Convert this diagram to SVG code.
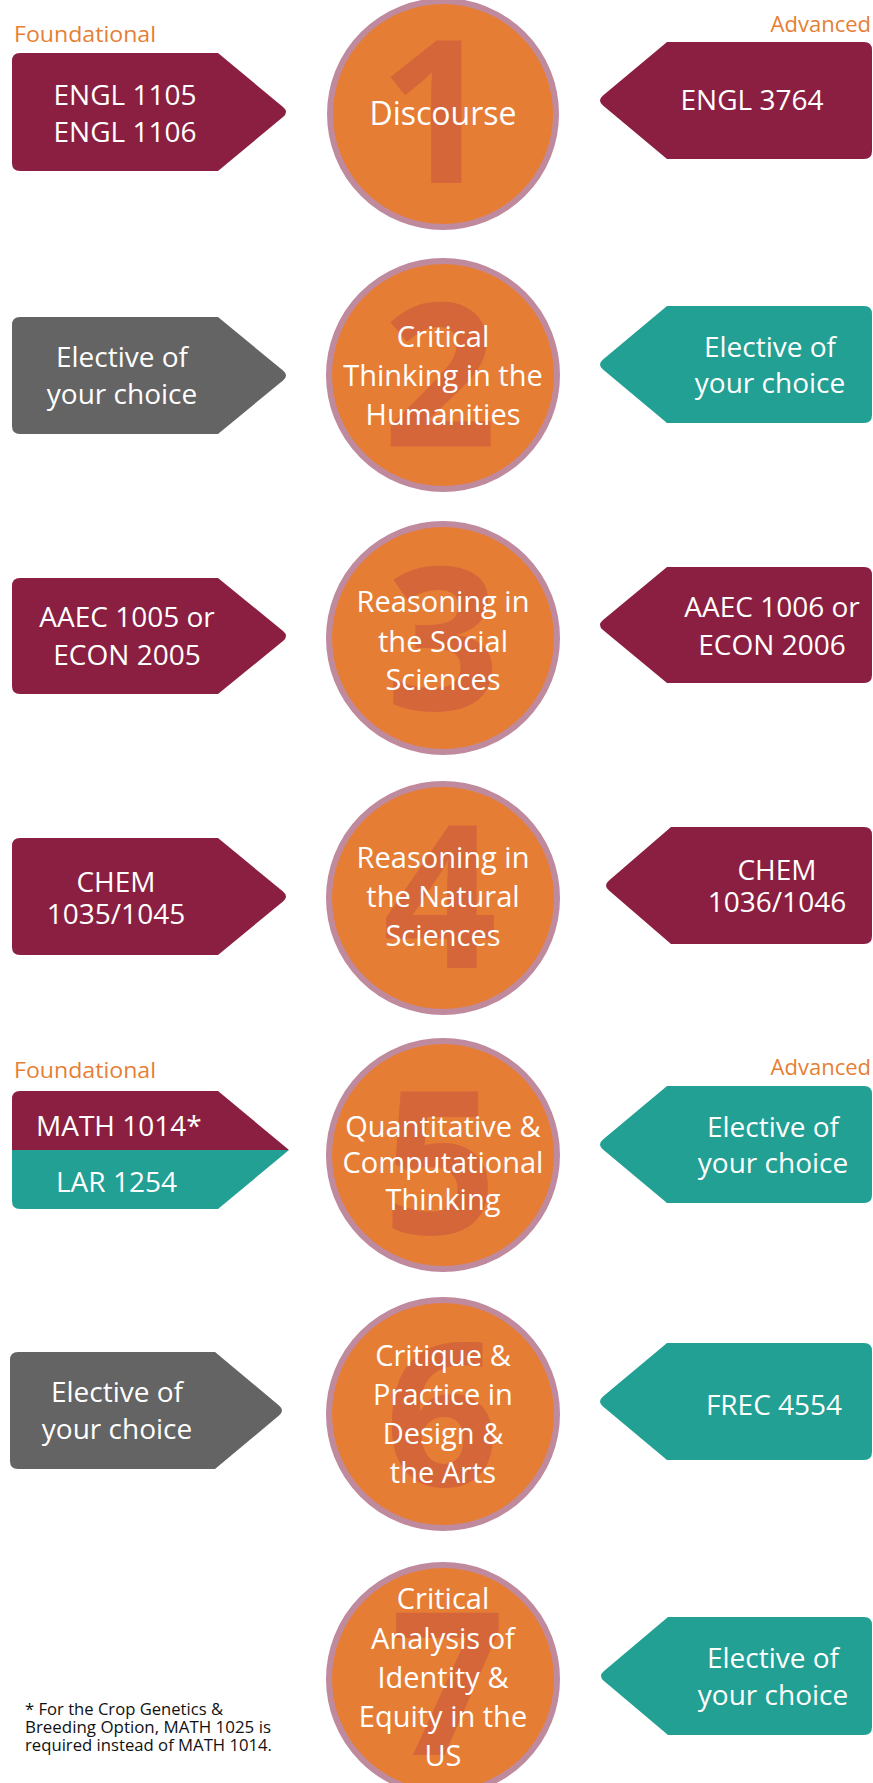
<svg xmlns="http://www.w3.org/2000/svg" width="873" height="1783" viewBox="0 0 873 1783">
<style>
.bg{fill:#ffffff}
.maroon{fill:#8B1F41}
.gray{fill:#646464}
.teal{fill:#22A094}
.circ{fill:#E67D35;stroke:#C08A9E;stroke-width:6}
.num{fill:#D5663A;font-family:"Open Sans","DejaVu Sans",sans-serif;font-weight:700;font-size:200px;text-anchor:middle}
.ct{fill:#ffffff;font-family:"Open Sans","DejaVu Sans",sans-serif;font-size:29px;text-anchor:middle}
.bt{fill:#ffffff;font-family:"Open Sans","DejaVu Sans",sans-serif;font-size:28px;text-anchor:middle}
.lbl{fill:#E67F35;font-family:"Open Sans","DejaVu Sans",sans-serif;font-size:22px}
.note{fill:#111111;font-family:"Open Sans","DejaVu Sans",sans-serif;font-size:15.5px}
</style>
<rect class="bg" x="0" y="0" width="873" height="1783"/>

<text class="lbl" x="14" y="42" textLength="142" lengthAdjust="spacingAndGlyphs">Foundational</text>
<text class="lbl" x="871" y="32" text-anchor="end">Advanced</text>

<!-- Row 1 -->
<g id="left1">
<path class="maroon" d="M20,53 H218 L283,107 Q289,112 283,117 L218,171 H20 Q12,171 12,163 V61 Q12,53 20,53 Z"/>
<text class="bt" x="125" y="105">ENGL 1105</text>
<text class="bt" x="125" y="142">ENGL 1106</text>
</g>
<g id="circle1">
<circle class="circ" cx="443" cy="114" r="113"/>
<text class="num" x="436" y="183">1</text>
<text class="ct" x="443" y="125" style="font-size:32px">Discourse</text>
</g>
<g id="right1">
<path class="maroon" d="M864,42 H667 L603,95.5 Q597,100.5 603,105.5 L667,159 H864 Q872,159 872,151 V50 Q872,42 864,42 Z"/>
<text class="bt" x="752" y="110">ENGL 3764</text>
</g>

<!-- Row 2 -->
<g id="left2">
<path class="gray" d="M20,317 H218 L283,370.5 Q289,375.5 283,380.5 L218,434 H20 Q12,434 12,426 V325 Q12,317 20,317 Z"/>
<text class="bt" x="122" y="367">Elective of</text>
<text class="bt" x="122" y="404">your choice</text>
</g>
<g id="circle2">
<circle class="circ" cx="443" cy="375" r="114"/>
<text class="num" x="440" y="446">2</text>
<text class="ct" x="443" y="347">Critical</text>
<text class="ct" x="443" y="386">Thinking in the</text>
<text class="ct" x="443" y="425">Humanities</text>
</g>
<g id="right2">
<path class="teal" d="M864,306 H667 L603,359.5 Q597,364.5 603,369.5 L667,423 H864 Q872,423 872,415 V314 Q872,306 864,306 Z"/>
<text class="bt" x="770" y="357">Elective of</text>
<text class="bt" x="770" y="393">your choice</text>
</g>

<!-- Row 3 -->
<g id="left3">
<path class="maroon" d="M20,578 H218 L283,631 Q289,636 283,641 L218,694 H20 Q12,694 12,686 V586 Q12,578 20,578 Z"/>
<text class="bt" x="127" y="627">AAEC 1005 or</text>
<text class="bt" x="127" y="665">ECON 2005</text>
</g>
<g id="circle3">
<circle class="circ" cx="443" cy="638" r="114"/>
<text class="num" x="443" y="710">3</text>
<text class="ct" x="443" y="612">Reasoning in</text>
<text class="ct" x="443" y="652">the Social</text>
<text class="ct" x="443" y="690">Sciences</text>
</g>
<g id="right3">
<path class="maroon" d="M864,567 H667 L603,620 Q597,625 603,630 L667,683 H864 Q872,683 872,675 V575 Q872,567 864,567 Z"/>
<text class="bt" x="772" y="617">AAEC 1006 or</text>
<text class="bt" x="772" y="655">ECON 2006</text>
</g>

<!-- Row 4 -->
<g id="left4">
<path class="maroon" d="M20,838 H218 L283,891.5 Q289,896.5 283,901.5 L218,955 H20 Q12,955 12,947 V846 Q12,838 20,838 Z"/>
<text class="bt" x="116" y="892">CHEM</text>
<text class="bt" x="116" y="924">1035/1045</text>
</g>
<g id="circle4">
<circle class="circ" cx="443" cy="898" r="114"/>
<text class="num" x="440" y="968">4</text>
<text class="ct" x="443" y="868">Reasoning in</text>
<text class="ct" x="443" y="907">the Natural</text>
<text class="ct" x="443" y="946">Sciences</text>
</g>
<g id="right4">
<path class="maroon" d="M864,827 H671 L609,880.5 Q603,885.5 609,890.5 L671,944 H864 Q872,944 872,936 V835 Q872,827 864,827 Z"/>
<text class="bt" x="777" y="880">CHEM</text>
<text class="bt" x="777" y="912">1036/1046</text>
</g>

<!-- Row 5 -->
<text class="lbl" x="14" y="1078" textLength="142" lengthAdjust="spacingAndGlyphs">Foundational</text>
<text class="lbl" x="871" y="1075" text-anchor="end">Advanced</text>
<g id="left5">
<path class="teal" d="M12,1150 H289 Q289,1150 283,1155 L218,1209 H20 Q12,1209 12,1201 Z"/>
<path class="maroon" d="M20,1091 H218 L283,1145 Q289,1150 289,1150 H12 V1099 Q12,1091 20,1091 Z"/>
<text class="bt" x="36" y="1136" style="text-anchor:start">MATH 1014*</text>
<text class="bt" x="56" y="1192" style="text-anchor:start">LAR 1254</text>
</g>
<g id="circle5">
<circle class="circ" cx="443" cy="1155" r="114"/>
<text class="num" x="440" y="1234">5</text>
<text class="ct" x="443" y="1137">Quantitative &amp;</text>
<text class="ct" x="443" y="1173">Computational</text>
<text class="ct" x="443" y="1210">Thinking</text>
</g>
<g id="right5">
<path class="teal" d="M864,1086 H667 L603,1139.5 Q597,1144.5 603,1149.5 L667,1203 H864 Q872,1203 872,1195 V1094 Q872,1086 864,1086 Z"/>
<text class="bt" x="773" y="1137">Elective of</text>
<text class="bt" x="773" y="1173">your choice</text>
</g>

<!-- Row 6 -->
<g id="left6">
<path class="gray" d="M18,1352 H215 L279,1405.5 Q285,1410.5 279,1415.5 L215,1469 H18 Q10,1469 10,1461 V1360 Q10,1352 18,1352 Z"/>
<text class="bt" x="117" y="1402">Elective of</text>
<text class="bt" x="117" y="1439">your choice</text>
</g>
<g id="circle6">
<circle class="circ" cx="443" cy="1414" r="114"/>
<text class="num" x="442" y="1486">6</text>
<text class="ct" x="443" y="1366">Critique &amp;</text>
<text class="ct" x="443" y="1405">Practice in</text>
<text class="ct" x="443" y="1444">Design &amp;</text>
<text class="ct" x="443" y="1483">the Arts</text>
</g>
<g id="right6">
<path class="teal" d="M864,1343 H667 L603,1396.5 Q597,1401.5 603,1406.5 L667,1460 H864 Q872,1460 872,1452 V1351 Q872,1343 864,1343 Z"/>
<text class="bt" x="774" y="1415">FREC 4554</text>
</g>

<!-- Row 7 -->
<g id="circle7">
<circle class="circ" cx="443" cy="1679" r="114"/>
<text class="num" x="448" y="1755">7</text>
<text class="ct" x="443" y="1609">Critical</text>
<text class="ct" x="443" y="1649">Analysis of</text>
<text class="ct" x="443" y="1688">Identity &amp;</text>
<text class="ct" x="443" y="1727">Equity in the</text>
<text class="ct" x="443" y="1766">US</text>
</g>
<g id="right7">
<path class="teal" d="M864,1617 H668 L604,1671 Q598,1676 604,1681 L668,1735 H864 Q872,1735 872,1727 V1625 Q872,1617 864,1617 Z"/>
<text class="bt" x="773" y="1668">Elective of</text>
<text class="bt" x="773" y="1705">your choice</text>
</g>

<g id="footnote">
<text class="note" x="25" y="1715" textLength="198" lengthAdjust="spacingAndGlyphs">* For the Crop Genetics &amp;</text>
<text class="note" x="25" y="1733" textLength="246" lengthAdjust="spacingAndGlyphs">Breeding Option, MATH 1025 is</text>
<text class="note" x="25" y="1751" textLength="247" lengthAdjust="spacingAndGlyphs">required instead of MATH 1014.</text>
</g>
</svg>
